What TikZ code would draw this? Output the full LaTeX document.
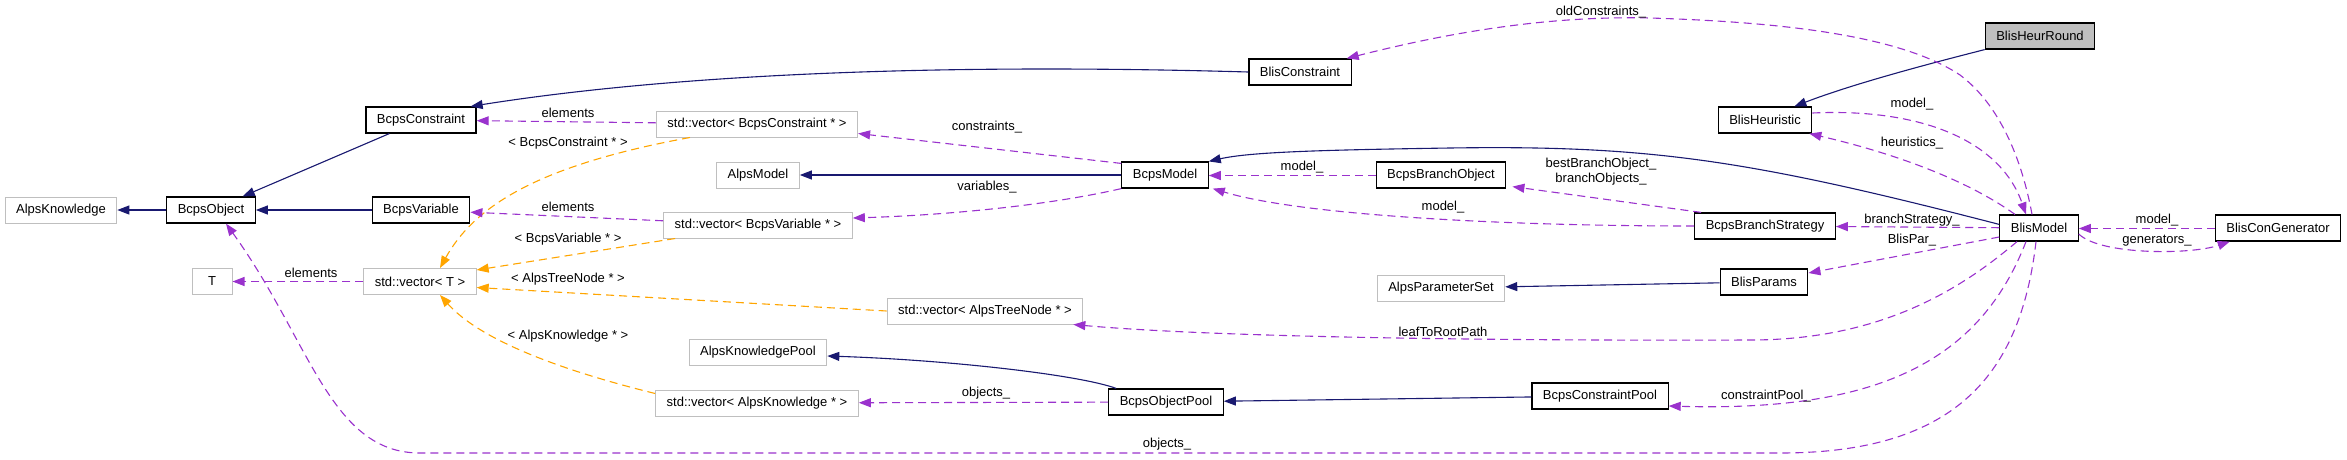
\documentclass[tikz,border=0pt]{standalone}
\usepackage{fontspec}
\setmainfont{Liberation Sans}
\usetikzlibrary{arrows.meta}
\definecolor{navy}{HTML}{191970}
\definecolor{orchid}{HTML}{9A32CD}
\definecolor{tmplorange}{HTML}{FFA500}
\definecolor{grey75}{HTML}{BFBFBF}
\begin{document}
\begin{tikzpicture}[x=1pt, y=-1pt,
    cls/.style={draw=black, line width=1.2pt, minimum height=26pt, inner xsep=11pt, inner ysep=0pt, font=\fontsize{13}{15}\selectfont},
    ext/.style={cls, draw=grey75, line width=1pt},
    cur/.style={cls, fill=grey75},
    lbl/.style={font=\fontsize{13}{15}\selectfont, inner sep=0pt},
    inherit/.style={-{Triangle[length=12pt,width=9pt]}, draw=navy, line width=1.1pt},
    member/.style={-{Triangle[length=12pt,width=9pt]}, draw=orchid, line width=1.1pt, dash pattern=on 8pt off 5pt},
    templ/.style={member, draw=tmplorange}
]
    \useasboundingbox (0,0) rectangle (2347,459);

    \node[ext] at (61,210) (AlpsKnowledge) {AlpsKnowledge};
    \node[cls] at (211,210) (BcpsObject) {BcpsObject};
    \node[cls] at (421,120) (BcpsConstraint) {BcpsConstraint};
    \node[cls] at (421,210) (BcpsVariable) {BcpsVariable};
    \node[ext, minimum width=40pt] at (212,281.5) (T) {T};
    \node[ext] at (420,281.5) (vecT) {std::vector< T >};
    \node[ext] at (757,124) (vecCon) {std::vector< BcpsConstraint * >};
    \node[ext] at (758,175) (AlpsModel) {AlpsModel};
    \node[ext] at (758,225) (vecVar) {std::vector< BcpsVariable * >};
    \node[ext] at (985,311) (vecTree) {std::vector< AlpsTreeNode * >};
    \node[ext] at (758,352) (AlpsKnowledgePool) {AlpsKnowledgePool};
    \node[ext] at (757,403) (vecKnow) {std::vector< AlpsKnowledge * >};
    \node[cls] at (1165,175) (BcpsModel) {BcpsModel};
    \node[cls] at (1166,402) (BcpsObjectPool) {BcpsObjectPool};
    \node[cls] at (1300,72) (BlisConstraint) {BlisConstraint};
    \node[cls] at (1441,175) (BcpsBranchObject) {BcpsBranchObject};
    \node[ext] at (1441,288) (AlpsParameterSet) {AlpsParameterSet};
    \node[cls] at (1600,396) (BcpsConstraintPool) {BcpsConstraintPool};
    \node[cls] at (1765,120) (BlisHeuristic) {BlisHeuristic};
    \node[cls] at (1765,226) (BcpsBranchStrategy) {BcpsBranchStrategy};
    \node[cls] at (1764,282) (BlisParams) {BlisParams};
    \node[cur] at (2040,36) (BlisHeurRound) {BlisHeurRound};
    \node[cls] at (2039,228) (BlisModel) {BlisModel};
    \node[cls] at (2278,228) (BlisConGenerator) {BlisConGenerator};

    \draw[inherit] (BcpsObject) -- (AlpsKnowledge);
    \draw[inherit] (BcpsConstraint) -- (BcpsObject);
    \draw[inherit] (BcpsVariable) -- (BcpsObject);
    \draw[inherit] (BlisConstraint.west) .. controls (900,62) and (650,78) .. ([xshift=-6pt]BcpsConstraint.north east);
    \draw[inherit] (BcpsModel) -- (AlpsModel);
    \draw[inherit] ([yshift=-10pt]BlisModel.north west) .. controls (1750,160) and (1650,145) .. (1450,148) .. controls (1320,150) and (1250,152) .. (BcpsModel.north east);
    \draw[inherit] (BlisHeurRound.south west) .. controls (1920,66) and (1850,85) .. ([xshift=-18pt]BlisHeuristic.north east);
    \draw[inherit] (BlisParams) -- (AlpsParameterSet);
    \draw[inherit] ([xshift=8pt]BcpsObjectPool.north west) .. controls (1080,375) and (950,360) .. ([yshift=-4pt]AlpsKnowledgePool.east);
    \draw[inherit] (BcpsConstraintPool) -- (BcpsObjectPool);

    \draw[templ] ([xshift=34pt]vecCon.south west) .. controls (540,165) and (475,205) .. ([xshift=20pt]vecT.north)
        node[lbl] at (568,143) {< BcpsConstraint * >};
    \draw[templ] ([xshift=12pt]vecVar.south west) -- ([yshift=-2pt]vecT.north east)
        node[lbl] at (568,239) {< BcpsVariable * >};
    \draw[templ] (vecTree.west) -- ([yshift=-6pt]vecT.east)
        node[lbl] at (568,279) {< AlpsTreeNode * >};
    \draw[templ] ([yshift=-4pt]vecKnow.north west) .. controls (560,370) and (480,340) .. ([xshift=20pt]vecT.south)
        node[lbl] at (568,336) {< AlpsKnowledge * >};

    \draw[member] (vecT) -- (T) node[lbl] at (311,273) {elements};
    \draw[member] (vecCon) -- (BcpsConstraint) node[lbl] at (568,113) {elements};
    \draw[member] (vecVar) -- (BcpsVariable) node[lbl] at (568,207) {elements};
    \draw[member] ([yshift=-2pt]BcpsModel.north west) -- ([yshift=4pt]vecCon.south east)
        node[lbl] at (987,127) {constraints\_};
    \draw[member] (BcpsModel.south west) .. controls (1050,205) and (950,215) .. ([yshift=7pt]vecVar.east)
        node[lbl] at (987,187) {variables\_};
    \draw[member] ([yshift=-.5pt]BcpsBranchObject.west) -- ([yshift=-.5pt]BcpsModel.east) node[lbl] at (1302,167) {model\_};
    \draw[member] (BcpsBranchStrategy.west) .. controls (1500,226) and (1300,215) .. ([xshift=4pt]BcpsModel.south east)
        node[lbl] at (1443,207) {model\_};
    \draw[member] ([xshift=7pt]BcpsBranchStrategy.north west) -- ([xshift=6pt, yshift=2pt]BcpsBranchObject.south east)
        node[lbl, align=center] at (1601,172) {bestBranchObject\_\\branchObjects\_};
    \draw[member] (BlisModel) -- (BcpsBranchStrategy) node[lbl] at (1912,220) {branchStrategy\_};
    \draw[member] ([yshift=-9pt]BlisModel.west) -- ([yshift=9pt]BlisParams.east)
        node[lbl] at (1912,240) {BlisPar\_};
    \draw[member] ([xshift=-24pt]BlisModel.north) .. controls (1960,175) and (1880,150) .. ([xshift=-3pt]BlisHeuristic.south east)
        node[lbl] at (1912,143) {heuristics\_};
    \draw[member] ([yshift=7pt]BlisHeuristic.east) .. controls (1920,108) and (2000,140) .. ([xshift=-13pt]BlisModel.north)
        node[lbl] at (1912,104) {model\_};
    \draw[member] ([xshift=-7pt]BlisModel.north) .. controls (2022,160) and (2000,105) .. (1960,75)
        .. controls (1900,35) and (1780,22) .. (1650,18) .. controls (1530,15) and (1420,40) .. ([xshift=-5pt]BlisConstraint.north east)
        node[lbl] at (1601,12) {oldConstraints\_};
    \draw[member] ([yshift=-.5pt]BlisConGenerator.west) -- ([yshift=-.5pt]BlisModel.east) node[lbl] at (2157,220) {model\_};
    \draw[member] ([yshift=-6pt]BlisModel.east) .. controls (2100,255) and (2190,255) .. ([xshift=15pt]BlisConGenerator.south west)
        node[lbl] at (2157,241) {generators\_};
    \draw[member] ([xshift=-22pt]BlisModel.south) .. controls (1960,290) and (1880,340) .. (1750,340)
        .. controls (1450,341) and (1200,336) .. ([xshift=-10pt]vecTree.south east)
        node[lbl] at (1443,332) {leafToRootPath};
    \draw[member] ([xshift=-13pt]BlisModel.south) .. controls (1980,360) and (1880,412) .. ([yshift=-10pt]BcpsConstraintPool.east)
        node[lbl] at (1766,396) {constraintPool\_};
    \draw[member] ([xshift=-3pt]BlisModel.south) .. controls (2020,380) and (1950,453) .. (1780,453) -- (420,453)
        .. controls (330,453) and (310,340) .. ([xshift=15pt]BcpsObject.south)
        node[lbl] at (1167,444) {objects\_};
    \draw[member] (BcpsObjectPool) -- (vecKnow) node[lbl] at (986,393) {objects\_};
\end{tikzpicture}
\end{document}
